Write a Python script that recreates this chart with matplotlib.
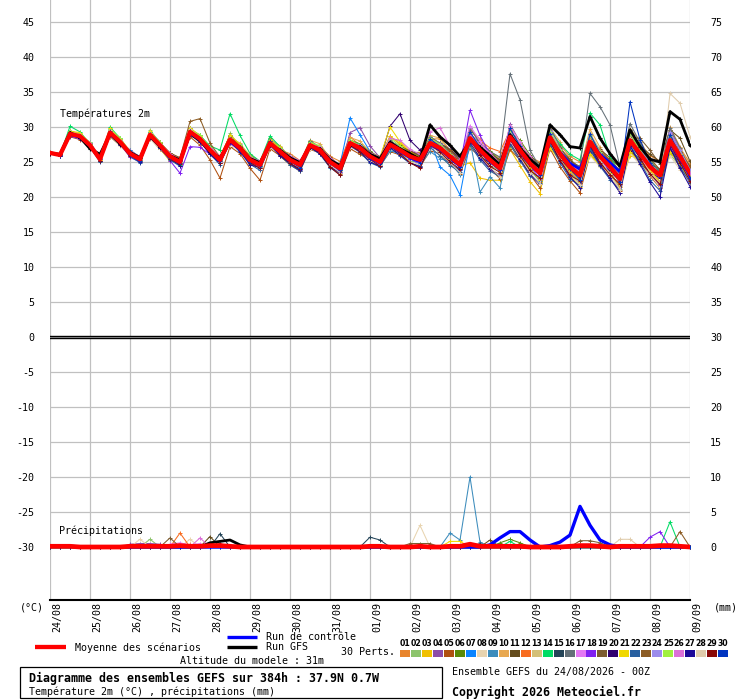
import matplotlib
matplotlib.use("Agg")
import matplotlib.pyplot as plt
from matplotlib.lines import Line2D
from matplotlib.patches import Rectangle
from matplotlib.transforms import ScaledTranslation
import numpy as np

plt.rcParams['font.family'] = ['DejaVu Sans Mono', 'DejaVu Sans']
plt.rcParams['font.size'] = 7.2

# ---- data (6-hourly, 24/08 00Z -> 09/09 00Z) ----
dates = ['24/08', '25/08', '26/08', '27/08', '28/08', '29/08', '30/08', '31/08',
         '01/09', '02/09', '03/09', '04/09', '05/09', '06/09', '07/09', '08/09', '09/09']
lead_hours = list(range(0, 390, 6))

mean_t2m = [26.3, 26.0, 29.0, 28.7, 27.4, 25.4, 29.2, 27.9, 26.2, 25.4,
            28.9, 27.4, 25.8, 25.0, 29.3, 28.3, 26.7, 25.3, 28.2, 27.0,
            25.3, 24.6, 27.7, 26.5, 25.3, 24.6, 27.4, 26.7, 25.0, 24.1,
            27.7, 27.0, 25.8, 25.0, 27.5, 26.7, 25.8, 25.3, 27.7, 27.0,
            25.8, 24.6, 28.4, 26.7, 25.3, 24.1, 28.6, 26.7, 24.8, 23.4,
            28.5, 26.2, 24.3, 23.1, 27.9, 25.8, 24.3, 22.6, 28.1, 26.2,
            24.3, 23.1, 28.1, 25.8, 23.4]

gfs_t2m = [26.3, 26.1, 29.2, 28.5, 26.9, 26.1, 29.0, 27.6, 26.4, 25.6,
           28.7, 27.2, 25.9, 25.3, 29.0, 28.1, 26.5, 25.6, 28.0, 27.1,
           25.5, 24.9, 27.5, 26.7, 25.6, 24.9, 27.2, 26.9, 25.3, 24.5,
           27.4, 27.2, 26.1, 25.5, 27.8, 26.9, 26.2, 25.4, 30.3, 28.6,
           27.4, 25.8, 28.0, 27.1, 25.9, 24.6, 28.9, 27.0, 25.4, 24.2,
           30.3, 28.9, 27.2, 27.0, 31.5, 28.4, 26.2, 24.4, 29.6, 27.2,
           25.4, 25.0, 32.2, 31.1, 27.4]

ctrl_t2m = [26.3, 26.0, 28.9, 28.6, 27.3, 25.4, 29.1, 27.8, 26.1, 25.3,
            28.8, 27.3, 25.7, 24.9, 29.1, 28.2, 26.6, 25.2, 28.0, 26.9,
            25.2, 24.5, 27.6, 26.4, 25.2, 24.5, 27.3, 26.6, 24.9, 24.0,
            27.6, 26.9, 25.6, 24.8, 27.4, 26.5, 25.6, 25.1, 27.5, 26.8,
            25.6, 24.4, 28.2, 26.5, 25.1, 23.9, 28.4, 26.5, 24.6, 23.3,
            28.3, 26.4, 24.8, 24.0, 27.7, 26.1, 24.9, 23.6, 28.0, 26.0,
            24.4, 23.2, 27.8, 25.5, 23.0]

# the 30 perturbations, read as departures from the ensemble mean (degC)
pert_offsets = [
    [0.1, 0.0, 0.4, 0.3, -0.2, 0.3, -0.4, 0.2, 0.5, 0.3, -0.6, 0.2, 0.4, 0.6, 0.3,
     -0.5, 0.3, 0.6, -0.8, 0.4, 0.7, 0.5, -0.6, 0.2, 0.9, 0.6, -0.4, 0.5, 0.8, 1.0,
     0.9, 0.4, 0.7, 0.3, 1.2, 0.8, 0.5, 1.1, 0.6, 1.3, 0.9, 1.4, -0.8, 0.6, 1.2,
     1.5, 1.1, 0.7, 0.9, 1.6, 0.4, 1.2, 1.5, 1.9, -0.7, 0.5, 1.1, 1.8, 0.9, 1.4,
     1.6, 2.0, 0.8, 1.2, 1.5],
    [0.0, 0.1, -0.3, -0.2, 0.3, -0.2, 0.5, 0.4, -0.3, -0.4, 0.7, 0.3, -0.5, -0.2, 0.5,
     0.4, -0.6, -0.4, 0.9, 0.2, -0.5, -0.3, 0.4, -0.7, -0.6, 0.3, 0.6, -0.2, -0.5, -0.4,
     0.5, -0.8, -0.6, -0.2, 0.8, -0.4, -0.7, -0.3, 1.0, -1.1, -1.2, -0.6, 0.9, -1.0, -0.8,
     -0.3, -1.4, -1.0, -0.9, -1.2, -1.5, -0.6, -0.9, -1.3, 0.8, -1.0, -0.7, -1.5, -1.8, -1.2,
     -0.8, -1.6, -2.0, -1.4, -0.9],
    [0.1, -0.1, 0.2, -0.4, -0.3, 0.4, 0.6, -0.3, -0.5, 0.2, 0.3, -0.5, -0.7, 0.2, 0.4,
     -0.3, -0.4, 0.5, 0.6, -0.5, -0.2, 0.6, 0.3, 0.5, -0.4, -0.6, 0.2, 0.4, 0.5, 0.3,
     -0.3, 0.6, 0.4, 0.7, 1.2, 0.9, 0.6, 0.8, -0.4, 0.5, 0.3, -0.2, -3.5, -4.0, -2.9,
     -1.7, -1.8, -2.2, -2.6, -2.9, -1.0, -0.7, -1.3, -1.6, -1.9, -0.6, -1.2, -1.0, -2.2, -0.8,
     -0.5, -1.1, -1.6, -0.3, -0.9],
    [-0.1, 0.0, -0.2, 0.3, 0.2, -0.3, -0.2, 0.4, 0.3, -0.2, -0.4, 0.2, 0.4, -0.3, -0.5,
     0.2, 0.4, -0.3, -0.6, 0.3, 0.4, -0.5, -0.3, 0.4, 0.2, -0.5, -0.4, 0.3, 0.2, -0.3,
     1.5, 2.9, 1.5, 0.6, -0.5, 0.3, 0.2, -0.4, 0.8, 0.4, 0.6, -0.5, 1.5, 0.9, 0.4,
     -0.6, 1.8, 1.2, 0.5, -0.5, 1.2, 0.7, -0.4, -0.8, 1.0, 0.6, 0.3, -0.9, 1.3, 0.8,
     0.2, -1.0, 1.5, 1.0, 0.4],
    [0.0, 0.1, -0.4, -0.5, -0.2, -0.1, -0.6, -0.5, -0.2, 0.1, -0.5, -0.6, -0.3, -0.2, -0.7,
     -0.9, -1.4, -2.6, -1.0, -0.8, -1.2, -2.2, -0.8, -0.6, -0.7, -0.9, -0.6, -0.4, -0.7, -0.8,
     -0.8, -0.9, -0.5, -0.6, -1.0, -0.7, -0.9, -1.0, -1.1, -0.8, -1.0, -1.3, -1.4, -0.9, -1.2,
     -1.5, -1.8, -1.4, -1.6, -2.1, -1.6, -1.9, -2.0, -2.5, -1.8, -1.2, -1.5, -1.7, -1.4, -1.0,
     -1.3, -1.8, -1.2, -1.6, -1.4],
    [0.1, 0.0, 0.5, 0.2, 0.0, 0.2, 0.3, 0.1, 0.3, 0.4, 0.2, 0.0, 0.2, 0.4, 0.6,
     0.3, 0.1, 0.2, 0.5, 0.4, 0.3, 0.2, 0.7, 0.5, 0.4, 0.1, 0.5, 0.3, 0.1, 0.2,
     0.4, 0.6, 0.8, 0.5, 0.3, 0.7, 0.4, 0.2, 0.9, 0.6, 0.5, 0.8, 0.4, 1.0, 1.3,
     1.1, 0.6, 1.4, 1.2, 0.9, -0.6, 0.4, 1.0, 0.7, -1.2, -0.4, 0.6, 0.9, -1.5, -0.7,
     0.3, 0.5, -1.8, -0.9, 0.2],
    [0.0, -0.1, 0.1, 0.2, 0.4, 0.2, -0.1, 0.0, 0.5, 0.3, -0.2, -0.4, 0.1, 0.3, -0.3,
     -0.2, 0.2, 0.4, -0.4, -0.6, 0.1, 0.5, -0.2, 0.3, 0.6, 0.4, 0.2, 0.5, 0.3, 0.5,
     3.6, 1.9, 0.7, 0.4, 0.6, 0.2, -0.3, -0.5, 0.4, -2.7, -2.7, -4.3, -0.6, -1.2, -0.4,
     0.3, -1.2, -0.6, -0.2, 0.4, -0.8, -0.3, 0.2, 0.6, -1.4, -0.8, -0.2, 0.4, -0.9, -0.4,
     0.2, 0.5, -1.1, -0.6, -0.2],
    [0.1, 0.2, -0.1, -0.3, -0.4, 0.3, -0.5, -0.6, -0.3, 0.1, -0.6, -0.5, -0.2, 0.2, -0.4,
     -0.6, -0.3, 0.2, -0.7, -0.5, -0.2, 0.3, -0.6, -0.4, -0.3, 0.4, -0.5, -0.3, -0.2, 0.2,
     -0.6, -0.4, -0.7, -0.3, -0.8, -0.6, -0.9, -0.4, -0.7, -1.0, -0.5, -0.2, -1.1, -0.8, -0.6,
     -0.2, -1.3, -0.9, -1.0, -0.8, -1.4, -1.1, -0.7, -1.2, -2.0, -1.5, -1.3, -2.0, -1.8, -1.6,
     -1.1, -1.7, -2.2, -1.9, -1.3],
    [-0.1, 0.0, 0.2, 0.1, 0.3, -0.2, 0.2, 0.3, 0.0, -0.3, 0.4, 0.5, 0.0, -0.4, 0.3,
     0.5, 0.3, -0.2, 0.4, 0.6, 0.2, -0.3, 0.5, 0.6, 0.3, -0.2, 0.4, 0.2, -0.3, -0.5,
     0.3, 0.1, -0.4, -0.6, -0.9, -0.5, -0.3, -0.8, -1.2, -1.5, -0.8, -1.4, -0.4, -6.0, -2.4,
     -2.8, -0.9, -0.5, -0.8, -1.1, -0.4, -0.7, -1.0, -0.6, 0.6, 0.4, 0.2, -0.5, 0.8, 0.5,
     0.6, 0.1, 1.0, 0.7, 0.3],
    [0.0, 0.1, 0.3, 0.4, 0.1, 0.0, 0.4, 0.6, 0.2, 0.0, 0.3, 0.4, 0.1, -0.1, 0.4,
     0.6, 0.2, 0.0, 0.3, 0.7, 0.5, 0.1, 0.6, 0.8, 0.4, 0.2, 0.7, 0.9, 0.5, 0.3,
     0.8, 1.0, 0.6, 0.4, 1.0, 1.2, 0.7, 0.5, 1.1, 1.4, 0.9, 0.6, 1.3, 1.6, 1.0,
     0.7, 1.5, 1.2, 0.8, 0.6, 1.4, 1.7, 1.1, 0.9, 1.8, 1.3, 0.8, 0.5, 1.6, 1.9,
     1.2, 0.7, 1.9, 1.4, 1.0],
    [0.1, 0.0, -0.2, 0.0, 0.3, 0.1, -0.3, 0.2, 0.4, 0.2, -0.3, 0.1, 0.5, 0.3, -0.2,
     0.0, 0.4, 0.3, -0.5, 0.1, 0.6, 0.4, -0.4, 0.2, 0.5, 0.3, -0.3, 0.4, 0.6, 0.2,
     -0.4, 0.2, 0.5, 0.8, -0.3, 0.4, 0.7, 0.9, -0.6, 0.3, 0.8, 1.1, -0.5, 0.4, 0.9,
     1.2, -0.8, 0.5, 1.0, 1.3, -0.4, 0.6, 0.9, 1.2, 0.3, 1.0, 1.3, 1.6, 0.5, 1.1,
     1.8, 2.0, 1.5, 2.6, 1.7],
    [-0.1, 0.1, 0.0, -0.2, -0.1, 0.2, 0.0, -0.3, -0.1, 0.3, 0.1, -0.2, -0.4, 0.1, 0.2,
     -0.1, -0.3, 0.1, 0.2, 0.0, -0.3, 0.0, 0.3, -0.2, -0.4, 0.1, 0.3, 0.0, -0.3, 0.0,
     0.4, 0.3, 0.1, 0.2, 0.5, 0.3, 0.6, 0.4, 0.8, 0.6, 0.9, 0.7, 1.2, 1.4, 1.7,
     2.4, 0.9, 0.6, 0.4, 0.7, 0.2, -0.4, -0.7, -0.3, 0.5, -0.2, -0.6, -0.4, 0.9, 0.3,
     -0.5, -0.2, 0.7, 0.1, -0.4],
    [0.0, -0.1, 0.1, 0.3, 0.0, -0.2, 0.1, 0.3, 0.1, -0.1, 0.2, 0.3, -0.1, -0.3, 0.0,
     0.2, 0.0, -0.2, 0.1, 0.3, -0.1, -0.3, 0.2, 0.4, 0.0, -0.2, 0.1, 0.3, 0.0, -0.1,
     0.2, 0.5, 0.3, 0.0, 0.4, 0.6, 0.2, -0.2, 0.5, 0.8, 0.4, 0.1, 0.7, 0.5, 0.2,
     -0.3, 1.0, 0.6, 0.3, 0.0, 1.1, 0.8, 0.4, 0.1, 1.2, 0.9, 0.5, 0.2, 1.4, 1.0,
     0.6, 0.3, 0.9, 0.4, 0.0],
    [0.0, 0.0, 1.1, 0.6, 0.2, -0.2, 0.8, 0.5, 0.0, -0.3, 0.4, 0.3, -0.2, -0.4, 0.3,
     0.5, 0.6, 1.4, 3.7, 1.8, 0.9, 0.5, 1.0, 0.7, 0.3, 0.2, 0.6, 0.4, 0.0, -0.2,
     0.3, 0.5, 0.2, -0.3, 0.4, 0.2, -0.1, -0.4, 0.3, 0.6, 0.2, -0.2, 0.5, 0.8, 0.4,
     0.1, 0.6, 0.3, -0.1, 0.5, 1.0, 1.4, 1.8, 2.2, 4.1, 4.5, 1.5, 0.8, 0.6, 1.2,
     1.0, 0.4, -0.6, 0.3, 0.8],
    [0.1, 0.0, -0.3, -0.1, 0.2, 0.0, -0.2, 0.1, 0.3, 0.1, -0.1, 0.3, 0.4, 0.2, -0.2,
     0.1, 0.5, 0.3, 0.6, 0.2, 0.3, 0.5, -0.1, 0.2, 0.6, 0.4, 0.0, 0.3, 0.5, 0.3,
     -0.2, 0.4, 0.6, 0.4, 0.2, 0.5, 0.8, 0.6, 0.3, 0.7, 1.0, 0.8, 0.6, 0.9, 0.5,
     0.4, 0.9, 0.7, 0.4, 0.2, 0.6, 0.3, 0.8, 1.0, 0.9, 0.5, 0.2, 0.6, 1.3, 0.7,
     0.4, 0.9, 1.1, 0.6, 0.1],
    [0.0, 0.1, 0.2, 0.0, -0.2, 0.1, 0.3, 0.0, -0.2, 0.0, 0.2, -0.1, -0.3, 0.0, 0.3,
     0.1, -0.2, 0.0, 0.4, 0.2, 0.0, 0.2, 0.5, 0.3, 0.1, 0.3, 0.6, 0.4, 0.2, 0.0,
     0.5, 0.3, 0.0, 0.2, 0.6, 0.4, 0.1, 0.3, 0.9, 0.7, 0.5, 0.8, 1.4, 1.0, 1.2,
     1.6, 9.0, 7.2, 1.9, 0.8, 1.5, 1.0, 0.6, 1.3, 6.9, 7.1, 6.0, 1.7, 2.4, 1.6,
     0.9, 0.5, 1.8, 1.2, 0.6],
    [0.1, 0.0, -0.1, 0.1, 0.0, 0.2, -0.1, 0.2, 0.4, 0.3, -0.2, -0.3, 0.3, 0.5, -0.4,
     -0.2, 0.1, 0.4, -0.3, -0.1, 0.2, 0.6, -0.4, -0.2, 0.4, 0.5, -0.3, -0.1, 0.3, 0.4,
     -0.4, -0.6, 0.2, 0.5, -0.2, -0.4, 0.3, 0.6, 0.5, 0.2, 0.4, 0.7, 1.8, 1.3, 0.6,
     0.9, 1.5, 1.1, 0.5, 0.8, 1.0, 0.6, 0.2, 0.5, 0.9, 0.4, -0.3, 0.2, 1.1, 0.6,
     -0.2, 0.3, 1.0, 0.5, -0.5],
    [-0.1, -0.1, -0.3, -0.4, -0.2, -0.2, -0.4, -0.3, -0.5, -0.4, -0.3, -0.2, -0.6, -1.6, -2.1,
     -1.2, -0.6, -0.3, -0.5, -0.4, -0.2, -0.5, -0.3, -0.1, -0.4, -0.6, -0.2, 0.0, -0.3, -0.5,
     -0.2, 0.1, -0.2, -0.4, 0.2, 0.0, -0.3, -0.6, 0.5, 0.3, 0.1, -0.2, 4.0, 2.1, 0.8,
     0.3, 1.0, 0.5, -0.4, -0.8, 0.4, 0.0, -0.6, -1.0, 0.3, -0.2, -0.7, -1.2, 0.6, -0.5,
     -0.9, -1.4, 0.4, -0.3, -0.8],
    [0.0, 0.1, 0.3, 0.1, -0.1, 0.1, 0.2, -0.1, 0.0, 0.2, 0.3, 0.0, -0.2, 0.1, 0.4,
     0.2, -0.1, 0.2, 0.5, 0.3, 0.1, -0.2, 0.3, 0.1, -0.1, 0.0, 0.4, 0.2, -0.1, 0.0,
     0.2, -0.1, 0.3, 0.5, 0.1, -0.2, 0.4, 0.6, 0.2, -0.3, 0.3, 0.6, 0.0, -0.5, 0.2,
     0.5, -0.4, -0.7, 0.3, 0.6, -0.6, -0.3, 0.4, 0.8, -0.2, 0.6, 0.9, 1.2, 0.4, 2.2,
     2.4, 1.6, -0.3, 0.5, 1.0],
    [-0.1, 0.0, -0.2, -0.1, 0.1, 0.0, -0.3, -0.2, 0.1, 0.0, -0.4, -0.3, 0.0, 0.2, -0.3,
     -0.5, -0.2, 0.1, -0.4, -0.3, 0.0, 0.2, -0.3, -0.5, -0.2, 0.1, -0.2, -0.4, -0.1, 0.1,
     -0.3, -0.4, 0.0, 0.3, 2.6, 5.2, 2.3, 1.4, 0.2, -0.2, -0.5, -0.3, -0.6, -0.9, -0.4,
     -0.2, -1.0, -0.7, -0.3, 0.0, -1.2, -0.8, -0.4, -0.2, -1.3, -1.0, -0.6, -0.3, -1.5, -1.1,
     -0.8, -0.4, -1.2, -1.0, -0.6],
    [0.0, 0.1, 0.4, 0.5, 0.2, -0.1, 0.6, 0.4, 0.1, -0.2, 0.5, 0.3, 0.0, -0.1, 0.6,
     0.4, 0.2, -0.1, 0.7, 0.5, 0.3, 0.0, 0.4, 0.6, 0.2, -0.1, 0.3, 0.5, 0.2, 0.0,
     0.4, 0.2, 0.5, 0.7, 2.5, 1.2, 0.6, 0.3, 0.1, -0.4, -0.3, 0.2, -1.0, -0.6, -0.2,
     -0.5, -1.3, -0.9, -0.7, -1.0, -1.5, -1.0, -0.6, -0.9, -1.8, -1.3, -0.8, -1.1, -1.6, -1.2,
     -0.5, -0.9, -1.7, -1.1, -0.6],
    [0.0, -0.1, 0.0, -0.2, -0.3, -0.4, 0.1, -0.2, -0.4, -0.5, 0.0, -0.3, -0.5, -0.6, 0.1,
     -0.2, -0.5, -0.7, -0.1, -0.4, -0.6, -0.8, -0.2, -0.5, -0.7, -0.9, -0.3, -0.6, -0.8, -0.9,
     -0.4, -0.6, -0.9, -0.7, -0.5, -0.8, -1.0, -0.9, -0.6, -1.1, -1.3, -1.0, -0.9, -1.4, -1.6,
     -1.2, -1.1, -1.5, -1.8, -1.4, -0.9, -1.3, -1.7, -1.5, -1.0, -1.4, -1.8, -1.6, -0.7, -1.2,
     -1.9, -2.2, -0.8, -1.5, -1.3],
    [0.1, 0.1, 0.2, 0.0, 0.1, 0.2, 0.1, 0.3, 0.2, 0.0, 0.1, 0.4, 0.5, 0.6, 1.5,
     2.9, 1.0, 0.4, 0.1, 0.3, 0.5, 0.2, 0.0, 0.4, 0.6, 0.3, 0.1, 0.5, 0.7, 0.4,
     0.0, 0.3, 0.6, 0.4, 0.2, 0.5, 0.8, 0.5, 0.3, 0.6, 0.9, 0.6, 0.2, 0.5, 0.8,
     1.0, 0.4, 0.7, 0.9, 0.6, 0.3, 0.8, 1.1, 0.9, 0.5, 0.8, 1.0, 0.7, 0.4, 0.9,
     1.2, 0.8, 0.3, 0.7, 1.0],
    [-0.1, 0.0, 0.1, 0.2, 0.0, 0.1, 0.0, 0.2, 0.1, 0.2, 0.0, 0.2, 0.3, 0.1, 0.0,
     0.2, 0.3, 0.1, 0.0, 0.2, 0.4, 0.3, 0.1, 0.3, 0.4, 0.2, 0.0, 0.2, 0.3, 0.1,
     0.2, 0.4, 0.2, 0.1, 0.3, 0.5, 0.3, 0.0, 0.4, 0.6, 0.3, 0.1, 0.5, 0.7, 0.4,
     0.2, 0.6, 0.8, 0.5, 0.3, 0.9, 0.6, 0.2, 0.4, 1.0, 0.7, 0.3, 0.5, 1.1, 0.8,
     0.4, 0.2, 1.2, 0.9, 0.5],
    [0.0, 0.0, 0.2, 0.3, 0.4, 0.1, 0.3, 0.5, 0.3, 0.1, 0.2, 0.5, 0.2, 0.0, 0.3,
     0.5, 0.4, 0.2, 0.1, 0.4, 0.6, 0.3, 0.2, 0.5, 0.3, 0.1, 0.4, 0.6, 0.3, 0.2,
     0.5, 0.2, 0.4, 0.6, 0.9, 0.6, 0.4, 0.2, 0.7, 0.5, 0.3, 0.1, 0.8, 0.6, 0.4,
     0.2, 1.0, 0.7, 0.4, 0.1, 0.8, 0.5, 0.3, 0.0, 0.9, 0.6, 0.3, 0.1, 1.0, 0.5,
     0.2, -0.1, 0.6, 0.3, 0.0],
    [0.0, 0.1, -0.2, 0.1, 0.3, 0.2, -0.1, 0.1, 0.3, 0.4, -0.1, 0.2, 0.4, 0.3, -0.2,
     0.1, 0.3, 0.5, 0.0, 0.2, 0.4, 0.5, 0.1, 0.3, 0.5, 0.6, 0.2, 0.4, 0.6, 0.5,
     0.1, 0.3, 0.5, 0.7, 0.9, 1.4, 1.0, 0.8, 1.6, 2.9, 1.5, 0.9, 0.6, 0.8, 1.0,
     0.7, 0.3, 0.9, 1.1, 0.6, -0.3, 0.2, 0.5, 0.4, -0.6, 0.0, 0.3, 0.2, -0.5, -0.2,
     0.1, -0.3, -0.9, -0.4, 0.0],
    [0.0, -0.1, -0.1, -0.3, -0.1, -0.3, -0.2, -0.4, -0.2, -0.4, -0.1, -0.4, -0.3, -0.5, -0.2,
     -0.4, -0.6, -0.5, -0.2, -0.5, -0.7, -0.4, -0.1, -0.6, -0.5, -0.8, -0.3, -0.5, -0.7, -0.6,
     -0.2, -0.5, -0.8, -0.6, -0.4, -0.7, -0.9, -1.0, -0.3, -0.6, -1.0, -0.8, -0.5, -1.1, -1.3,
     -1.0, -0.7, -1.2, -1.5, -1.6, -0.4, -1.0, -1.4, -1.8, -0.6, -1.2, -1.6, -2.0, -0.8, -1.5,
     -2.2, -3.1, -1.0, -1.7, -1.9],
    [0.1, 0.0, 0.3, 0.2, 0.0, 0.1, 0.4, 0.2, -0.1, 0.1, 0.3, 0.1, -0.2, 0.0, 0.4,
     0.2, 0.0, -0.3, 0.3, 0.1, -0.2, -0.4, 0.2, 0.0, -0.3, -0.5, 0.1, -0.2, -0.4, -0.6,
     0.0, -0.3, -0.5, -0.4, -0.2, -0.5, -0.8, -0.6, -0.3, -0.7, -0.9, -1.1, -0.4, -0.8, -1.0,
     -1.2, -0.6, -1.0, -1.3, -1.5, -0.2, -0.8, -1.1, -1.4, 0.2, -0.5, -1.0, -1.6, 0.4, -0.3,
     -0.8, -1.2, 6.7, 7.6, 5.2],
    [-0.1, 0.0, -0.1, 0.0, -0.3, -0.2, 0.0, -0.2, -0.3, -0.1, 0.0, -0.2, -0.4, -0.3, 0.1,
     -0.1, -0.3, -0.4, 0.0, -0.2, -0.4, -0.5, 0.0, -0.3, -0.5, -0.6, -0.2, -0.4, -0.7, -1.0,
     -0.3, -0.5, -0.4, -0.6, -0.2, -0.5, -0.9, -1.2, -0.3, -0.5, -0.8, -0.6, -0.2, -0.7, -0.9,
     -0.6, -0.3, -0.8, -1.0, -0.7, -0.5, -0.9, -1.2, -0.8, -0.4, -0.9, -1.1, -0.8, -0.3, -0.7,
     -1.0, -1.3, -0.6, -0.9, -1.1],
    [0.0, 0.0, 0.1, -0.1, -0.2, 0.0, 0.2, 0.0, -0.2, -0.3, 0.1, 0.0, -0.2, -0.1, 0.2,
     0.0, -0.3, -0.2, 0.1, -0.1, -0.3, -0.2, 0.3, 0.0, -0.2, -0.4, 0.2, 0.0, -0.2, -0.3,
     0.1, -0.1, -0.3, -0.2, 0.4, 0.1, -0.2, -0.4, 0.6, 0.2, -0.1, -0.3, 0.9, 0.4, 0.0,
     -0.3, 1.2, 0.6, 0.2, -0.2, 0.5, 0.1, -0.3, -0.6, 1.1, 0.4, 0.0, -0.4, 5.5, 2.0,
     0.6, -0.2, 0.8, 0.2, -0.7],
]

# precipitation (mm per 6h); perturbations listed only where they rain: {step: mm}
mean_rain = [0.1, 0.1, 0.1, 0.0, 0.0, 0.0, 0.0, 0.0, 0.1, 0.1, 0.1, 0.1, 0.1, 0.2, 0.1,
             0.1, 0.2, 0.2, 0.1, 0.0, 0.0, 0.0, 0.0, 0.0, 0.0, 0.0, 0.0, 0.0, 0.0, 0.0,
             0.0, 0.0, 0.1, 0.1, 0.0, 0.0, 0.0, 0.1, 0.0, 0.0, 0.1, 0.1, 0.4, 0.1, 0.1,
             0.1, 0.1, 0.1, 0.0, 0.0, 0.0, 0.0, 0.1, 0.2, 0.2, 0.1, 0.0, 0.1, 0.1, 0.1,
             0.1, 0.2, 0.2, 0.1, 0.0]
ctrl_rain_events = {0: 0.1, 1: 0.1, 2: 0.1, 44: 0.3, 45: 1.3, 46: 2.2, 47: 2.2, 48: 1.0,
                    50: 0.2, 51: 0.7, 52: 1.7, 53: 5.8, 54: 3.1, 55: 1.0, 56: 0.3}
gfs_rain_events = {16: 0.6, 17: 0.8, 18: 1.0, 19: 0.3}
pert_rain_events = {
    1: {14: 0.4},
    2: {10: 1.1},
    4: {8: 0.4, 9: 0.5, 10: 0.5, 11: 0.4},
    6: {45: 0.6, 46: 1.1, 47: 0.6},
    8: {9: 1.1, 14: 1.1, 37: 3.1},
    9: {40: 2.0, 41: 1.0, 42: 10.0, 43: 0.7},
    11: {16: 1.5, 44: 1.0},
    12: {13: 2.0},
    14: {46: 0.8, 62: 3.6},
    15: {17: 1.9, 32: 1.4, 33: 1.0, 43: 0.5},
    16: {47: 0.3},
    17: {12: 0.4, 13: 0.6, 14: 0.3, 15: 0.5},
    18: {60: 1.4, 61: 2.2},
    19: {12: 1.3, 36: 0.5, 37: 0.5, 38: 0.5, 53: 0.9, 54: 0.9, 55: 0.6},
    21: {16: 0.6, 40: 0.8, 41: 0.8},
    23: {63: 2.2},
    26: {15: 1.3},
    28: {57: 1.1, 58: 1.1},
    29: {17: 0.5},
}

pert_colors = ['#e8842c', '#8cc46c', '#f0c000', '#8c4ca8', '#b05010', '#5a8a08',
               '#0a84ff', '#e8d4b0', '#3c8cbc', '#e8a850', '#644c1c', '#f86c20',
               '#d4c078', '#00dc64', '#244458', '#647078', '#e478f4', '#8020f0',
               '#7c5c30', '#300070', '#f0d800', '#2860a0', '#8c5c24', '#9c8cec',
               '#a0f040', '#dc70d8', '#1c0898', '#e0ccac', '#880808', '#0034c0']

RAIN_ZERO = -30   # 0 mm sits on the -30 degC line (right axis = left + 30)

def rain_series(events):
    r = np.zeros(len(lead_hours))
    for k, v in events.items():
        r[k] = v
    return r


x = np.array(lead_hours) / 24.0
mean_t = np.array(mean_t2m)

fig = plt.figure(figsize=(7.4, 7.0), dpi=100)
fig.patch.set_facecolor('white')
W, H = 740.0, 700.0
ax = fig.add_axes([50 / W, 1 - 600 / H, 640 / W, 600 / H])

ytop = 45 + 22 / 7.0
ybot = ytop - 600 / 7.0
ax.set_xlim(0, 16)
ax.set_ylim(ybot, ytop)

for v in range(-30, 50, 5):
    ax.axhline(v, color='#c0c0c0', lw=0.9, zorder=0)
for d in range(17):
    ax.axvline(d, color='#c0c0c0', lw=0.9, zorder=0)
ax.axhline(0.15, color='black', lw=1.0, zorder=1)
ax.axhline(-0.15, color='black', lw=1.0, zorder=1)

pert_style = dict(lw=0.75, marker='+', ms=3.2, mew=0.7, zorder=2)
for i in range(30):
    t = mean_t + np.array(pert_offsets[i])
    ax.plot(x, t, color=pert_colors[i], **pert_style)
    r = rain_series(pert_rain_events.get(i + 1, {}))
    ax.plot(x, r + RAIN_ZERO, color=pert_colors[i], **pert_style)

ax.plot(x, gfs_t2m, color='black', lw=2.0, marker='+', ms=3, mew=0.8, zorder=3)
ax.plot(x, rain_series(gfs_rain_events) + RAIN_ZERO, color='black', lw=2.0, zorder=3)
ax.plot(x, ctrl_t2m, color='#0000ff', lw=2.0, zorder=4)
ax.plot(x, rain_series(ctrl_rain_events) + RAIN_ZERO, color='#0000ff', lw=2.4, zorder=4)
ax.plot(x, mean_t, color='#ff0000', lw=3.1, zorder=5)
ax.plot(x, np.array(mean_rain) + RAIN_ZERO, color='#ff0000', lw=3.4, zorder=5)

for s in ['top', 'left', 'right']:
    ax.spines[s].set_visible(False)
ax.spines['bottom'].set_color('black')
ax.spines['bottom'].set_linewidth(1.5)

ax.set_yticks(range(-30, 50, 5))
ax.set_yticklabels([str(v) for v in range(-30, 50, 5)])
ax.tick_params(axis='y', length=0, pad=11)
ax.set_xticks(range(17))
ax.set_xticklabels(dates, rotation=90, va='top', ha='center')
ax.tick_params(axis='x', length=0, pad=1.5)
shift = ScaledTranslation(7 / 100.0, 0, fig.dpi_scale_trans)
for lab in ax.get_xticklabels():
    lab.set_transform(lab.get_transform() + shift)

ax2 = ax.twinx()
ax2.set_ylim(ybot + 30, ytop + 30)
ax2.set_yticks(range(0, 80, 5))
ax2.tick_params(axis='y', length=0, pad=14.5)
for s in ax2.spines.values():
    s.set_visible(False)


def px(xp, yp):
    return xp / W, 1 - yp / H


def ftext(xp, yp, s, **kw):
    fx, fy = px(xp, yp)
    kw.setdefault('va', 'center')
    fig.text(fx, fy, s, **kw)


def fline(x1, x2, yp, color, lw):
    fx1, fy = px(x1, yp)
    fx2, _ = px(x2, yp)
    fig.add_artist(Line2D([fx1, fx2], [fy, fy], transform=fig.transFigure,
                          color=color, lw=lw, solid_capstyle='butt'))


ftext(60, 114, 'Températures 2m')
ftext(59, 531, 'Précipitations')
ftext(20, 607, '(°C)')
ftext(714, 607, '(mm)')

fline(35, 66, 647, '#ff0000', 3.1)
ftext(75, 648, 'Moyenne des scénarios')
fline(227, 257, 637, '#0000ff', 2.4)
ftext(266, 637, 'Run de contrôle')
fline(227, 257, 647, 'black', 2.4)
ftext(266, 647, 'Run GFS')
ftext(341, 652, '30 Perts.')
for i in range(30):
    bx = 400 + 10.97 * i
    fx, fy = px(bx, 657)
    fig.add_artist(Rectangle((fx, fy), 10 / W, 7 / H, transform=fig.transFigure,
                             facecolor=pert_colors[i], edgecolor='none'))
    ftext(bx + 5, 643.5, '%02d' % (i + 1), ha='center', fontsize=5.6,
          fontweight='bold', family='DejaVu Sans')
ftext(180, 661, 'Altitude du modele : 31m')

bx0, by0 = px(20, 698)
fig.add_artist(Rectangle((bx0, by0), 422 / W, 31 / H, transform=fig.transFigure,
                         facecolor='none', edgecolor='black', lw=0.9))
ftext(29, 678, 'Diagramme des ensembles GEFS sur 384h : 37.9N 0.7W',
      fontsize=8.4, fontweight='bold')
ftext(29, 692, 'Température 2m (°C) , précipitations (mm)')
ftext(452, 672, 'Ensemble GEFS du 24/08/2026 - 00Z')
ftext(452, 692, 'Copyright 2026 Meteociel.fr', fontsize=8.4, fontweight='bold')

fig.savefig('out.png', dpi=100, facecolor='white')
